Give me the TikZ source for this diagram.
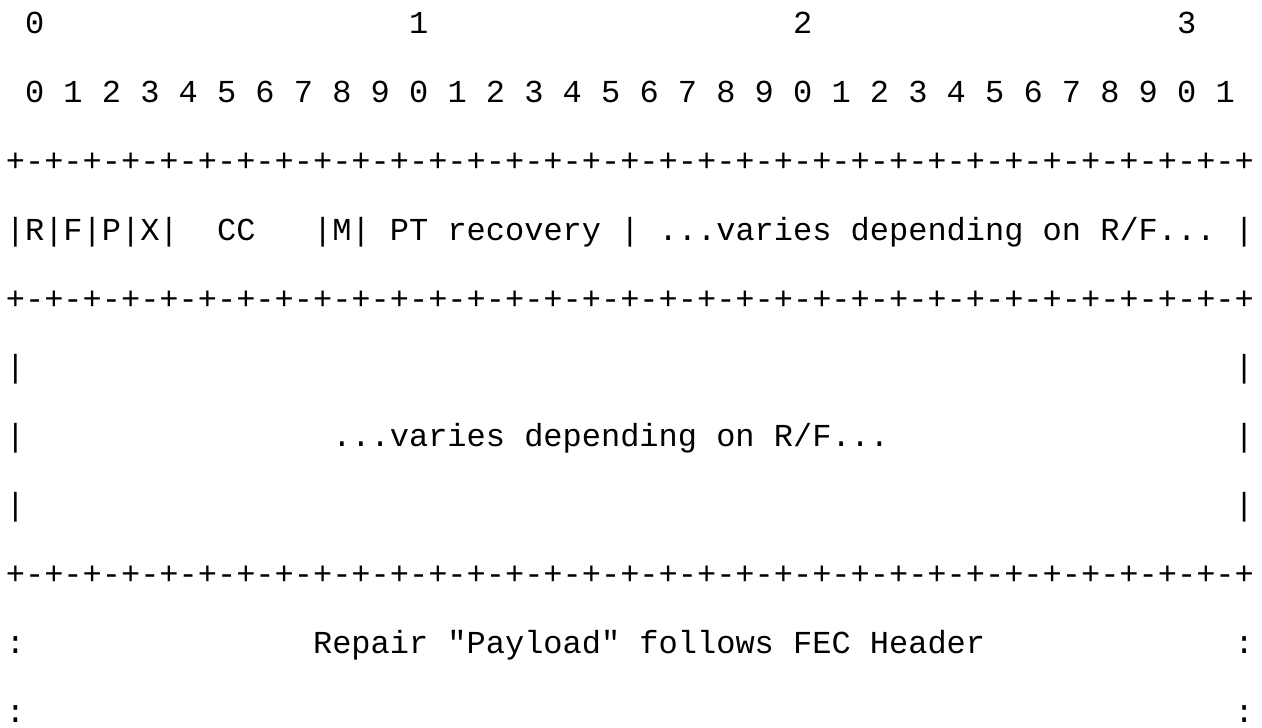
\documentclass[tikz,border=0pt]{standalone}
\usepackage{fontspec}
\setmonofont{Liberation Mono}
\usepackage{tikz}

\tikzset{
    row/.style={anchor=base west, inner sep=0pt, outer sep=0pt,
        font=\ttfamily\fontsize{16pt}{16pt}\selectfont}
}

\newcommand{\plusline}{+-+-+-+-+-+-+-+-+-+-+-+-+-+-+-+-+-+-+-+-+-+-+-+-+-+-+-+-+-+-+-+-+}

\begin{document}
\begin{tikzpicture}[x=9.6pt, y=-34.4pt]
    \useasboundingbox (-0.307,-0.494) rectangle (65.422,10.073);

    \foreach \n in {0,...,3}
        \node[row] (dec\n) at ({1+20*\n},0) {\n};
    \foreach \i in {0,...,31} {
        \pgfmathtruncatemacro{\d}{mod(\i,10)}
        \node[row] (bit\i) at ({1+2*\i},1) {\d};
    }

    \node[row] (top) at (0,2) {\plusline};

    \node[row] (flags) at (0,3) {|R|F|P|X|};
    \node[row] (cc) at (11,3) {CC};
    \node[row] (mark) at (16,3) {|M|};
    \node[row] (ptrec) at (20,3) {PT recovery};
    \node[row] (midbar) at (32,3) {|};
    \node[row] (varyA) at (34,3) {...varies depending on R/F...};
    \node[row] (endbarA) at (64,3) {|};

    \node[row] (mid) at (0,4) {\plusline};

    \node[row] (lbarA) at (0,5) {|};
    \node[row] (rbarA) at (64,5) {|};
    \node[row] (lbarB) at (0,6) {|};
    \node[row] (varyB) at (17,6) {...varies depending on R/F...};
    \node[row] (rbarB) at (64,6) {|};
    \node[row] (lbarC) at (0,7) {|};
    \node[row] (rbarC) at (64,7) {|};

    \node[row] (bottom) at (0,8) {\plusline};

    \node[row] (lcolA) at (0,9) {:};
    \node[row] (repair) at (16,9) {Repair "Payload" follows FEC Header};
    \node[row] (rcolA) at (64,9) {:};
    \node[row] (lcolB) at (0,10) {:};
    \node[row] (rcolB) at (64,10) {:};
\end{tikzpicture}
\end{document}
